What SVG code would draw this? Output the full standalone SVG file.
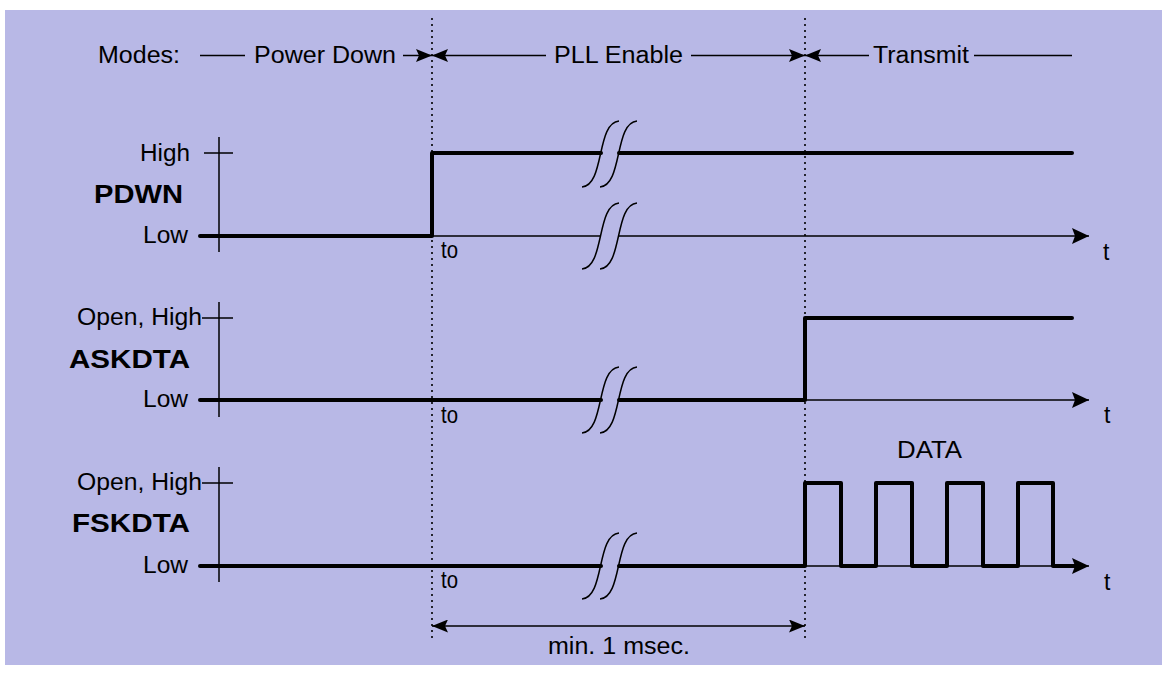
<svg xmlns="http://www.w3.org/2000/svg" width="1169" height="675" viewBox="0 0 1169 675">
<style>
text{font-family:"Liberation Sans",Arial,sans-serif;font-size:23px;fill:#000}
.b{font-weight:bold;font-size:26px}
.thick{stroke:#000;stroke-width:4;fill:none;stroke-linecap:round;stroke-linejoin:round}
.thin{stroke:#000;stroke-width:1.5;fill:none}
.dot{stroke:#000;stroke-width:1.6;stroke-dasharray:2 4;fill:none}
.brk{stroke:#000;stroke-width:1.5;fill:none}
</style>
<defs>
<marker id="ah" viewBox="0 0 17 16" refX="17" refY="8" markerWidth="17" markerHeight="16" markerUnits="userSpaceOnUse" orient="auto-start-reverse">
<path d="M0,0 L17,8 L0,16 L3,8 Z" fill="#000"/>
</marker>
<marker id="ahs" viewBox="0 0 16 13" refX="16" refY="6.5" markerWidth="16" markerHeight="13" markerUnits="userSpaceOnUse" orient="auto-start-reverse">
<path d="M0,0 L16,6.5 L0,13 L3,6.5 Z" fill="#000"/>
</marker>
</defs>
<rect x="5" y="10" width="1157" height="655" fill="#b8b8e6"/>

<g id="guides">
<line class="dot" x1="432" y1="18" x2="432" y2="642"/>
<line class="dot" x1="805" y1="18" x2="805" y2="642"/>
</g>

<g id="modes">
<text x="98" y="63" textLength="82" lengthAdjust="spacingAndGlyphs">Modes:</text>
<line class="thin" x1="200" y1="55.5" x2="245" y2="55.5"/>
<text x="254" y="63" textLength="142" lengthAdjust="spacingAndGlyphs">Power Down</text>
<text x="554" y="63" textLength="129" lengthAdjust="spacingAndGlyphs">PLL Enable</text>
<text x="873" y="63" textLength="96" lengthAdjust="spacingAndGlyphs">Transmit</text>
</g>

<g id="pdwn">
<text x="140" y="161" textLength="50" lengthAdjust="spacingAndGlyphs">High</text>
<text class="b" x="94" y="203" textLength="89" lengthAdjust="spacingAndGlyphs">PDWN</text>
<text x="143" y="243" textLength="45" lengthAdjust="spacingAndGlyphs">Low</text>
<text x="441" y="258" textLength="17" lengthAdjust="spacingAndGlyphs">to</text>
<text x="1103" y="260">t</text>
<line class="thin" x1="219" y1="137" x2="219" y2="252"/>
<line class="thin" x1="204" y1="153" x2="233" y2="153"/>
<polyline class="thick" points="200,236 432,236 432,153 601,153"/>
<line class="thick" x1="619" y1="153" x2="1072" y2="153"/>
<path class="brk" d="M582,187 C605,185 596,123 619,121"/>
<path class="brk" d="M600,187 C623,185 614,123 637,121"/>
</g>

<g id="askdta">
<text x="77" y="325" textLength="125" lengthAdjust="spacingAndGlyphs">Open, High</text>
<text class="b" x="69" y="368" textLength="121" lengthAdjust="spacingAndGlyphs">ASKDTA</text>
<text x="143" y="407" textLength="45" lengthAdjust="spacingAndGlyphs">Low</text>
<text x="441" y="423" textLength="17" lengthAdjust="spacingAndGlyphs">to</text>
<text x="1104" y="423">t</text>
<line class="thin" x1="219" y1="302" x2="219" y2="417"/>
<line class="thin" x1="202" y1="318" x2="233" y2="318"/>
<line class="thick" x1="200" y1="400" x2="601" y2="400"/>
<polyline class="thick" points="619,400 805,400 805,318 1072,318"/>
<path class="brk" d="M582,433 C605,431 596,369 619,367"/>
<path class="brk" d="M600,433 C623,431 614,369 637,367"/>
</g>

<g id="fskdta">
<text x="77" y="490" textLength="125" lengthAdjust="spacingAndGlyphs">Open, High</text>
<text class="b" x="72" y="532" textLength="118" lengthAdjust="spacingAndGlyphs">FSKDTA</text>
<text x="143" y="573" textLength="45" lengthAdjust="spacingAndGlyphs">Low</text>
<text x="441" y="588" textLength="17" lengthAdjust="spacingAndGlyphs">to</text>
<text x="1104" y="590">t</text>
<text x="897" y="458" textLength="65" lengthAdjust="spacingAndGlyphs">DATA</text>
<line class="thin" x1="219" y1="467" x2="219" y2="582"/>
<line class="thin" x1="202" y1="483" x2="233" y2="483"/>
<line class="thick" x1="200" y1="566" x2="601" y2="566"/>
<polyline class="thick" points="619,566 805,566 805,483 841,483 841,566 876,566 876,483 912,483 912,566 947,566 947,483 983,483 983,566 1018,566 1018,483 1053,483 1053,566 1075,566"/>
<path class="brk" d="M582,599 C605,597 596,535 619,533"/>
<path class="brk" d="M600,599 C623,597 614,535 637,533"/>
</g>

<g id="connectors">
<line class="thin" x1="403" y1="55.5" x2="432" y2="55.5" marker-end="url(#ahs)"/>
<line class="thin" x1="546" y1="55.5" x2="432" y2="55.5" marker-end="url(#ahs)"/>
<line class="thin" x1="691" y1="55.5" x2="805" y2="55.5" marker-end="url(#ahs)"/>
<line class="thin" x1="869" y1="55.5" x2="805" y2="55.5" marker-end="url(#ahs)"/>
<line class="thin" x1="974" y1="55.5" x2="1072" y2="55.5"/>
<line class="thin" x1="432" y1="236" x2="601" y2="236"/>
<line class="thin" x1="619" y1="236" x2="1089" y2="236" marker-end="url(#ah)"/>
<path class="brk" d="M582,269 C605,267 596,205 619,203"/>
<path class="brk" d="M600,269 C623,267 614,205 637,203"/>
<line class="thin" x1="805" y1="400" x2="1089" y2="400" marker-end="url(#ah)"/>
<line class="thin" x1="805" y1="566" x2="1089" y2="566" marker-end="url(#ah)"/>
<line class="thin" x1="432" y1="626" x2="805" y2="626" marker-start="url(#ahs)" marker-end="url(#ahs)"/>
<text x="548" y="654" textLength="142" lengthAdjust="spacingAndGlyphs">min. 1 msec.</text>
</g>
</svg>
